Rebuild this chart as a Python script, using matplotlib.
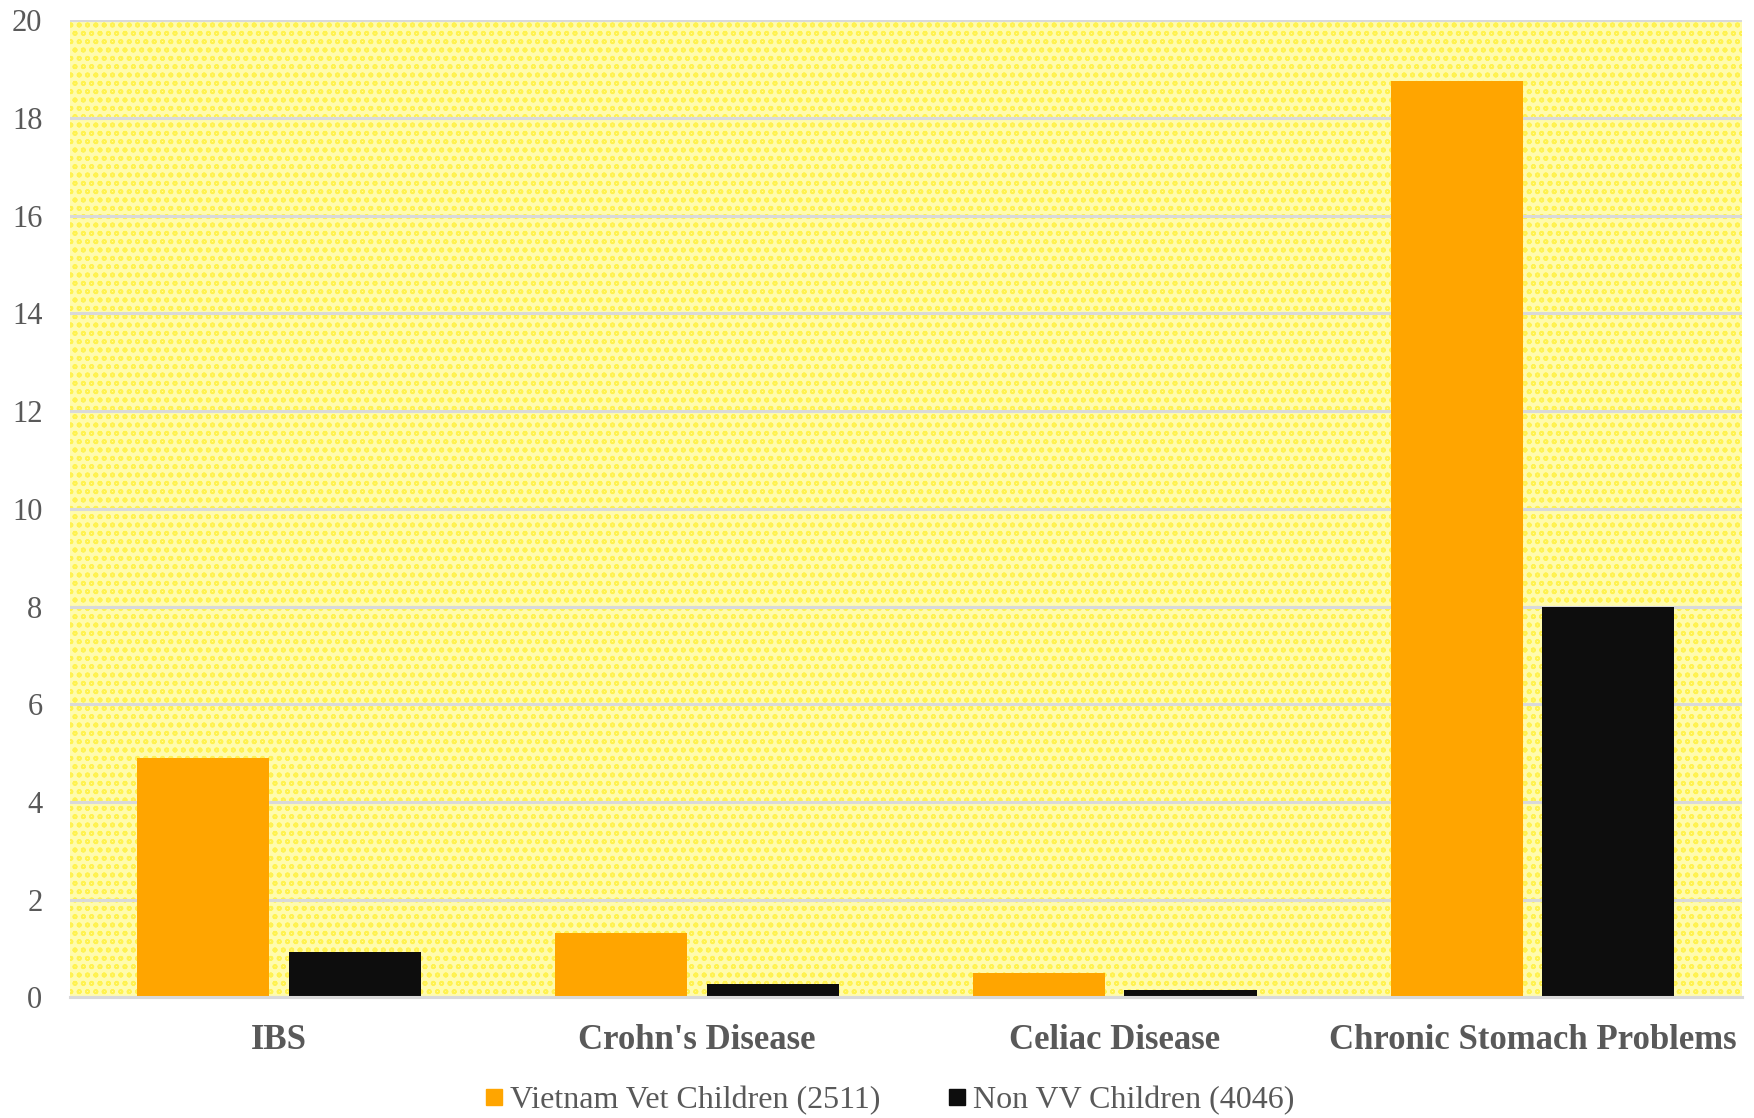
import numpy as np
import matplotlib
matplotlib.use("Agg")
import matplotlib.pyplot as plt
from matplotlib.patches import Rectangle
from matplotlib.lines import Line2D

# data
categories = ["IBS", "Crohn's Disease", "Celiac Disease", "Chronic Stomach Problems"]
vv_children = [4.9, 1.31, 0.51, 18.75]
non_vv_children = [0.93, 0.27, 0.15, 8.0]
series_names = ["Vietnam Vet Children (2511)", "Non VV Children (4046)"]
y_ticks = [0, 2, 4, 6, 8, 10, 12, 14, 16, 18, 20]

ORANGE = "#FFA500"
BLACK = "#0D0D0D"
TXT = "#595959"

plt.rcParams['font.family'] = ['Liberation Serif', 'DejaVu Serif']
plt.rcParams['hatch.linewidth'] = 1.2

fig = plt.figure(figsize=(17.54, 11.18), dpi=100)
ax = fig.add_axes([0.040, 0.1078, 0.953, 0.874])

# patterned yellow background
bg = Rectangle((0, 0), 1, 1, transform=ax.transAxes, facecolor="#FFFBAE",
               edgecolor="#FFF250", hatch="oo", lw=0, zorder=0)
ax.add_patch(bg)
ax.patch.set_visible(False)

x = np.arange(len(categories))
w = 0.316
off = 0.181
ax.bar(x - off, vv_children, width=w, color=ORANGE, zorder=2)
ax.bar(x + off, non_vv_children, width=w, color=BLACK, zorder=2)

ax.set_xlim(-0.5, len(categories) - 0.5)
ax.set_ylim(0, 20)
ax.set_yticks(y_ticks)
ax.set_yticklabels([str(v) for v in y_ticks], fontsize=22, color=TXT)
ax.set_xticks(x)
ax.set_xticklabels(categories, fontsize=25, fontweight='bold', color=TXT)
ax.tick_params(axis='both', length=0)
ax.tick_params(axis='y', pad=20)
ax.tick_params(axis='x', pad=19)

ax.set_axisbelow(True)
ax.yaxis.grid(True, color="#D9D9D9", linewidth=2.2, zorder=1)
for s in ["top", "right", "left"]:
    ax.spines[s].set_visible(False)
ax.spines["bottom"].set_color("#D9D9D9")
ax.spines["bottom"].set_linewidth(2.2)

handles = [Line2D([], [], marker='s', linestyle='none', markersize=11, color=ORANGE),
           Line2D([], [], marker='s', linestyle='none', markersize=11, color=BLACK)]
fig.legend(handles, series_names, loc='center', bbox_to_anchor=(0.507, 0.016),
           ncol=2, frameon=False, fontsize=23, labelcolor=TXT,
           handlelength=0.6, handletextpad=0.2, columnspacing=2.1)

fig.savefig("out.png", dpi=100)
